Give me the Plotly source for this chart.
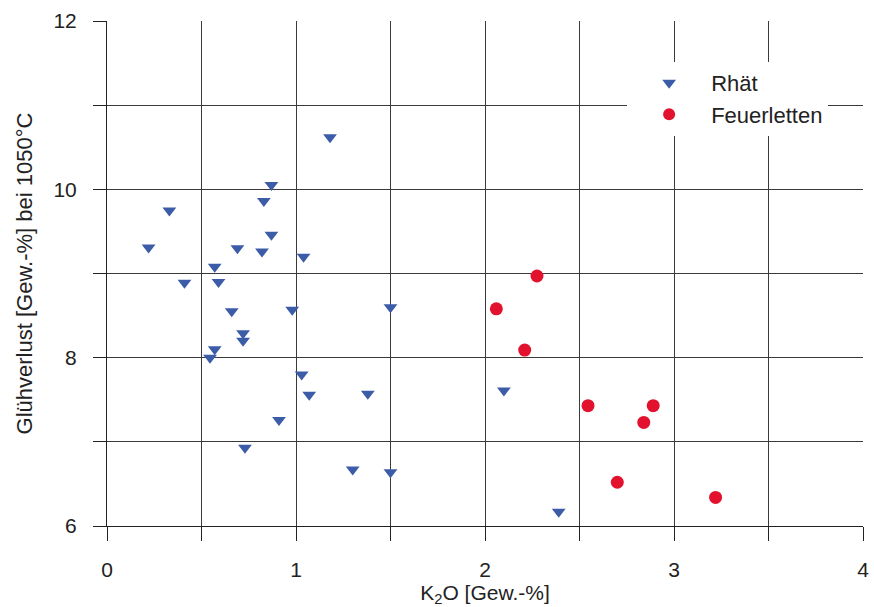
import plotly.graph_objects as go

# Rhät samples: K2O [Gew.-%] and Glühverlust [Gew.-%]
rhaet_k2o = [0.22, 0.33, 0.41, 0.57, 0.59, 0.69, 0.66, 0.72, 0.72, 0.57, 0.545,
             0.87, 0.83, 0.87, 0.82, 1.04, 0.98, 1.18, 1.50, 1.03, 1.07, 1.38,
             0.91, 0.73, 1.30, 1.50, 2.10, 2.39]
rhaet_gv = [9.31, 9.75, 8.89, 9.08, 8.90, 9.30, 8.55, 8.29, 8.20, 8.10, 8.00,
            10.05, 9.86, 9.46, 9.26, 9.20, 8.57, 10.62, 8.60, 7.80, 7.56, 7.57,
            7.26, 6.93, 6.67, 6.64, 7.61, 6.17]

# Feuerletten samples
feuer_k2o = [2.275, 2.06, 2.21, 2.545, 2.89, 2.84, 2.70, 3.22]
feuer_gv = [8.97, 8.58, 8.09, 7.43, 7.43, 7.23, 6.52, 6.34]

x_range = [0, 4]
y_range = [6, 12]

BLUE = "#3D5CA8"
RED = "#E2122E"
GRID = "#3a3a3a"
AXIS = "#222222"
FONT = "Liberation Sans, Arial, sans-serif"

fig = go.Figure()
fig.add_trace(go.Scatter(
    x=rhaet_k2o, y=rhaet_gv, mode="markers", name="Rhät",
    marker=dict(symbol="triangle-down", size=12, color=BLUE, line=dict(width=0)),
))
fig.add_trace(go.Scatter(
    x=feuer_k2o, y=feuer_gv, mode="markers", name="Feuerletten",
    marker=dict(symbol="circle", size=13, color=RED, line=dict(width=0)),
))

fig.update_layout(
    width=874, height=607,
    margin=dict(l=107, r=11, t=21, b=81),
    paper_bgcolor="white", plot_bgcolor="white",
    font=dict(family=FONT, color="#222222", size=21),
    showlegend=True,
    legend=dict(
        x=0.688, y=0.919, xanchor="left", yanchor="top",
        bgcolor="white", borderwidth=0,
        font=dict(family=FONT, size=22, color="#222222"),
        itemsizing="constant",
        itemwidth=74,
        tracegroupgap=7,
    ),
)
fig.update_xaxes(
    range=x_range, dtick=1, tick0=0,
    showgrid=True, gridcolor=GRID, gridwidth=1,
    minor=dict(dtick=0.5, tick0=0, showgrid=True, gridcolor=GRID, gridwidth=1,
               ticks="outside", ticklen=14, tickcolor=AXIS),
    showline=True, linecolor=AXIS, linewidth=1,
    ticks="outside", ticklen=14, tickcolor=AXIS,
    zeroline=False, automargin=False,
    tickfont=dict(size=21), ticklabelstandoff=11,
    title=dict(text="K<sub>2</sub>O [Gew.-%]", font=dict(size=21), standoff=4),
)
fig.update_yaxes(
    range=y_range, dtick=2, tick0=6,
    showgrid=True, gridcolor=GRID, gridwidth=1,
    minor=dict(dtick=1, tick0=6, showgrid=True, gridcolor=GRID, gridwidth=1,
               ticks="outside", ticklen=13, tickcolor=AXIS),
    showline=True, linecolor=AXIS, linewidth=1,
    ticks="outside", ticklen=13, tickcolor=AXIS,
    zeroline=False, automargin=False,
    tickfont=dict(size=21), ticklabelstandoff=12,
    title=dict(text="Glühverlust [Gew.-%] bei 1050°C", font=dict(size=22), standoff=14),
)

fig.write_html(
    "out.html",
    config={"displayModeBar": False},
    post_script="document.body.style.margin='0';document.body.style.overflow='hidden';",
)
